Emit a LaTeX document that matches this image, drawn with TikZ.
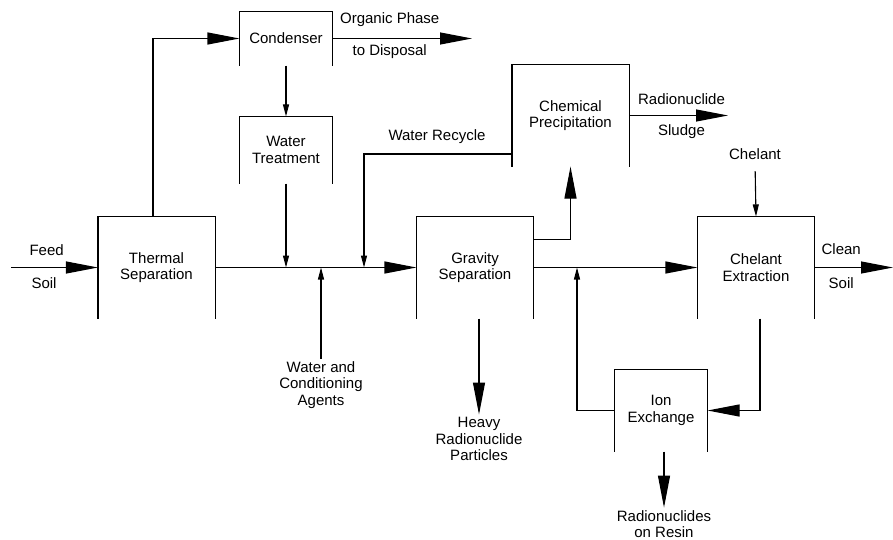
\documentclass[tikz,border=0pt]{standalone}
\usepackage{fontspec}
\setmainfont{Liberation Sans}
\usetikzlibrary{arrows.meta,positioning}

\begin{document}
\begin{tikzpicture}[x=1pt,y=-1pt,node distance=10pt,on grid,line width=1.1pt,
		font=\fontsize{15pt}{16.7pt}\selectfont,
		unit/.style={align=center,inner sep=0pt,minimum width=116pt,minimum height=101pt},
		big/.style={-{Triangle[length=32pt,width=12pt]}},
		small/.style={-{Triangle[length=12pt,width=6pt]}},
		lbl/.style={align=center,inner sep=2pt}]
		\useasboundingbox (0,0) rectangle (893,540);
		
		\node[unit]   (thermal)   at (156.5,267.5)              {Thermal\\Separation};
		\node[unit]   (gravity)   [right=318.5pt of thermal]    {Gravity\\Separation};
		\node[unit]   (chelant)   [right=281pt of gravity]      {Chelant\\Extraction};
		\node[unit]   (chem)      at (570.5,115.5)              {Chemical\\Precipitation};
		\node[unit,minimum width=92pt,minimum height=53pt] (condenser) at (286,38.5) {Condenser};
		\node[unit,minimum width=92pt,minimum height=66pt] (water) [below=111.5pt of condenser] {Water\\Treatment};
		\node[unit,minimum width=92pt,minimum height=81pt] (ion) at (661,410.5) {Ion\\Exchange};
		
		% boxes open at the bottom
		\foreach \b in {thermal,gravity,chelant,chem,condenser,water,ion}
			\draw (\b.south west) |- (\b.north east) -- (\b.south east);
		
		\node[lbl]    (agents)    at (321,385)     {Water and\\Conditioning\\Agents};
		\node[lbl]    (heavy)     at (479,439)     {Heavy\\Radionuclide\\Particles};
		\node[lbl]    (resin)     at (664,524)     {Radionuclides\\on Resin};
		\node[lbl]    (chelin)    at (755,154)     {Chelant};
		\node[lbl]    (recyclbl)  at (437,137)     {Water Recycle};
		
		\coordinate (feed)     at (11,267.5);
		\coordinate (disposal) at (472,38.5);
		\coordinate (sludge)   at (728,115.5);
		\coordinate (clean)    at (893,267.5);
		\coordinate (recycle)  at (364,267.5);
		\coordinate (rejoin)   at (577,267.5);
		
		\draw[big] (feed) -- node[pos=0.41,yshift=17.5pt] {Feed} node[pos=0.38,yshift=-15.5pt] {Soil} (thermal.west);
		\draw[big] ([xshift=-3.5pt]thermal.north) |- (condenser.west);
		\draw[big] (condenser.east) -- node[pos=0.41,yshift=19pt] {Organic Phase} node[pos=0.41,yshift=-13pt] {to Disposal} (disposal);
		\draw[small] (condenser.south) -- (water.north);
		\draw[big] (thermal.east) -- (gravity.west);
		\draw[small] (water.south) -- (water.south |- thermal.east);
		\draw[small] (agents.north) -- (agents.north |- thermal.east);
		\draw[small] ([yshift=-38.5pt]chem.west) -| (recycle);
		\draw[big] ([yshift=28pt]gravity.east) -| (chem.south);
		\draw[big] (chem.east) -- node[pos=0.53,yshift=16pt] {Radionuclide} node[pos=0.53,yshift=-16pt] {Sludge} (sludge);
		\draw[big] (gravity.east) -- (chelant.west);
		\draw[big] (heavy.north |- gravity.south) -- (heavy.north);
		\draw[small,shorten <=9pt] (chelin.south) -- (chelant.north);
		\draw[big] (chelant.east) -- node[pos=0.34,yshift=18.5pt] {Clean} node[pos=0.34,yshift=-15.5pt] {Soil} (clean);
		\draw[big] ([xshift=4pt]chelant.south) |- (ion.east);
		\draw[small] (ion.west) -| (rejoin);
		\draw[big] ([xshift=3pt]ion.south) -- (resin.north);
\end{tikzpicture}
\end{document}
